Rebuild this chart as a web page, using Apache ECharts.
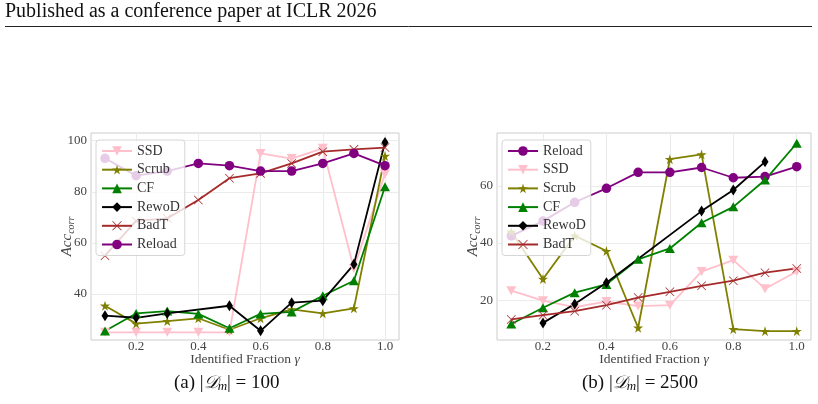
<!DOCTYPE html>
<html>
<head>
<meta charset="utf-8">
<script src="https://cdn.jsdelivr.net/npm/echarts@6/dist/echarts.min.js"></script>
<style>html,body{margin:0;padding:0;background:#fff;}#c{width:818px;height:404px;}</style>
</head>
<body>
<div id="c"></div>
<script>
// ---- data ----
const xVals = [0.1, 0.2, 0.3, 0.4, 0.5, 0.6, 0.7, 0.8, 0.9, 1.0];
const xTicks = [0.2, 0.4, 0.6, 0.8, 1.0];
const yTicksA = [40, 60, 80, 100];
const yTicksB = [20, 40, 60];

// (a) |D_m| = 100
const ssdA    = [25, 25, 25, 25, 25, 95, 93, 97, 50, 87];
const scrubA  = [35.4, 28.4, 29.4, 30.5, 26, 30.5, 34, 32.4, 34.4, 94];
const cfA     = [25.5, 32.4, 33.3, 32.2, 26.6, 32.2, 33, 39.3, 45.2, 82];
const rewodAx = [0.1, 0.2, 0.3, 0.5, 0.6, 0.7, 0.8, 0.9, 1.0];
const rewodA  = [31.5, 30.7, 32.4, 35.4, 25.6, 36.6, 37.4, 51.6, 99.3];
const badtA   = [55, 68.6, 69.6, 76.8, 85.3, 87.2, 91.1, 95.7, 96.6, 97.3];
const reloadA = [93.1, 86.3, 88.1, 91.1, 90.2, 88.1, 88.1, 91.1, 95, 90.2];

// (b) |D_m| = 2500
const reloadB = [42.5, 47.7, 54.3, 59.2, 64.8, 64.8, 66.5, 62.9, 63.3, 66.8];
const ssdB    = [23.3, 19.8, 17.5, 19.5, 17.9, 18.2, 30, 34, 24, 30];
const scrubB  = [44, 27.4, 42.6, 37.2, 10.3, 69.4, 71.1, 9.8, 9.1, 9.1];
const cfB     = [11.6, 17.3, 22.6, 25.5, 34.3, 38.1, 47.1, 52.7, 62.1, 75];
const rewodBx = [0.2, 0.3, 0.4, 0.7, 0.8, 0.9];
const rewodB  = [12, 18.6, 26.1, 51.2, 58.6, 68.5];
const badtB   = [13.2, 14.7, 16.1, 18.2, 20.9, 22.9, 25, 26.8, 29.6, 31.1];

const namesA = ['SSD', 'Scrub', 'CF', 'RewoD', 'BadT', 'Reload'];
const namesB = ['Reload', 'SSD', 'Scrub', 'CF', 'RewoD', 'BadT'];

// ---- styles ----
const SERIF = "'Liberation Serif', 'DejaVu Serif', serif";
const STAR = 'path://M50,0 L61,35 L98,35 L68,57 L79,91 L50,70 L21,91 L32,57 L2,35 L39,35 Z';
const XMARK = 'path://M0,6 L6,0 L50,44 L94,0 L100,6 L56,50 L100,94 L94,100 L50,56 L6,100 L0,94 L44,50 Z';
const sty = {
  SSD:    {color: '#ffc0cb', symbol: 'triangle', size: [10, 9], rotate: 180},
  Scrub:  {color: '#808000', symbol: STAR, size: 10, rotate: 0},
  CF:     {color: '#008000', symbol: 'triangle', size: [10, 9], rotate: 0},
  RewoD:  {color: '#000000', symbol: 'diamond', size: [7, 11], rotate: 0},
  BadT:   {color: '#a52a2a', symbol: XMARK, size: 9, rotate: 0},
  Reload: {color: '#800080', symbol: 'circle', size: 9.5, rotate: 0}
};

function pairs(xs, ys) { return xs.map((x, i) => [x, ys[i]]); }

function mk(name, idx, xs, ys) {
  const s = sty[name];
  return {
    type: 'line', name: name, xAxisIndex: idx, yAxisIndex: idx,
    data: pairs(xs, ys),
    symbol: s.symbol, symbolSize: s.size, symbolRotate: s.rotate,
    showAllSymbol: true,
    lineStyle: {color: s.color, width: 1.8},
    itemStyle: {color: s.color},
    emphasis: {disabled: true},
    animation: false
  };
}

const seriesA = {
  SSD: [xVals, ssdA], Scrub: [xVals, scrubA], CF: [xVals, cfA],
  RewoD: [rewodAx, rewodA], BadT: [xVals, badtA], Reload: [xVals, reloadA]
};
const seriesB = {
  Reload: [xVals, reloadB], SSD: [xVals, ssdB], Scrub: [xVals, scrubB],
  CF: [xVals, cfB], RewoD: [rewodBx, rewodB], BadT: [xVals, badtB]
};

const series = [];
namesA.forEach(n => series.push(mk(n, 0, seriesA[n][0], seriesA[n][1])));
namesB.forEach(n => series.push(mk(n, 1, seriesB[n][0], seriesB[n][1])));

function xAxis(idx) {
  return {
    type: 'value', gridIndex: idx, min: 0.055, max: 1.045,
    name: '{n|Identified Fraction }{g|γ}', nameLocation: 'middle', nameGap: 12, nameMoveOverlap: false,
    nameTextStyle: {rich: {
      n: {fontFamily: SERIF, fontSize: 13.5, color: '#444'},
      g: {fontFamily: SERIF, fontSize: 13.5, fontStyle: 'italic', color: '#444'}
    }},
    axisLine: {show: false}, axisTick: {show: false, customValues: xTicks},
    axisLabel: {customValues: xTicks, formatter: v => v.toFixed(1), fontFamily: SERIF, fontSize: 13, color: '#444', margin: 0},
    splitLine: {show: true, lineStyle: {color: '#ebebeb', width: 1}}
  };
}
function yAxis(idx, mn, mx, ticks) {
  return {
    type: 'value', gridIndex: idx, min: mn, max: mx,
    name: '{i|Acc}{s|corr}', nameLocation: 'middle', nameGap: 15, nameMoveOverlap: false,
    nameTextStyle: {rich: {
      i: {fontFamily: SERIF, fontSize: 15, fontStyle: 'italic', color: '#444', lineHeight: 18, verticalAlign: 'middle'},
      s: {fontFamily: SERIF, fontSize: 10, fontStyle: 'italic', color: '#444', lineHeight: 12, verticalAlign: 'bottom'}
    }},
    axisLine: {show: false}, axisTick: {show: false, customValues: ticks},
    axisLabel: {customValues: ticks, fontFamily: SERIF, fontSize: 13, color: '#444', margin: 4},
    splitLine: {show: true, lineStyle: {color: '#ebebeb', width: 1}}
  };
}

function legend(names, left) {
  return {
    data: names, orient: 'vertical', left: left, top: 140,
    itemWidth: 30, itemHeight: 12, itemGap: 4.7,
    padding: [4, 5, 4, 5],
    backgroundColor: 'rgba(255,255,255,0.8)', borderColor: '#d6d6d6', borderWidth: 1, borderRadius: 3,
    textStyle: {fontFamily: SERIF, fontSize: 14, color: '#333', lineHeight: 14},
    selectedMode: false, z: 10
  };
}

const CAPRICH = {
  n: {fontFamily: SERIF, fontSize: 19, fill: '#111', lineHeight: 20, verticalAlign: 'middle'},
  d: {fontFamily: "'DejaVu Sans', 'Noto Sans', serif", fontSize: 18, fontStyle: 'italic', fill: '#111', lineHeight: 20, verticalAlign: 'middle'},
  s: {fontFamily: SERIF, fontSize: 13, fontStyle: 'italic', fill: '#111', lineHeight: 14, verticalAlign: 'bottom'}
};

const chart = echarts.init(document.getElementById('c'), null, {renderer: 'canvas'});
chart.setOption({
  backgroundColor: '#ffffff',
  animation: false,
  grid: [
    {left: 91, top: 133, width: 308, height: 207, show: true, borderColor: '#cccccc', borderWidth: 1, backgroundColor: 'transparent', z: 0},
    {left: 497, top: 133, width: 314, height: 207, show: true, borderColor: '#cccccc', borderWidth: 1, backgroundColor: 'transparent', z: 0}
  ],
  xAxis: [xAxis(0), xAxis(1)],
  yAxis: [yAxis(0, 22, 103, yTicksA), yAxis(1, 6, 78.6, yTicksB)],
  legend: [legend(namesA, 96), legend(namesB, 502)],
  series: series,
  graphic: [
    {type: 'text', left: 5, top: 2, style: {text: 'Published as a conference paper at ICLR 2026', font: "20px 'Liberation Serif', serif", fill: '#111'}},
    {type: 'line', shape: {x1: 5, y1: 26.5, x2: 812, y2: 26.5}, style: {stroke: '#222', lineWidth: 1}},
    {type: 'text', left: 174, top: 374, style: {text: '{n|(a) |}{d|𝒟}{s|m}{n|| = 100}', rich: CAPRICH}},
    {type: 'text', left: 582, top: 374, style: {text: '{n|(b) |}{d|𝒟}{s|m}{n|| = 2500}', rich: CAPRICH}}
  ]
});
</script>
</body>
</html>
